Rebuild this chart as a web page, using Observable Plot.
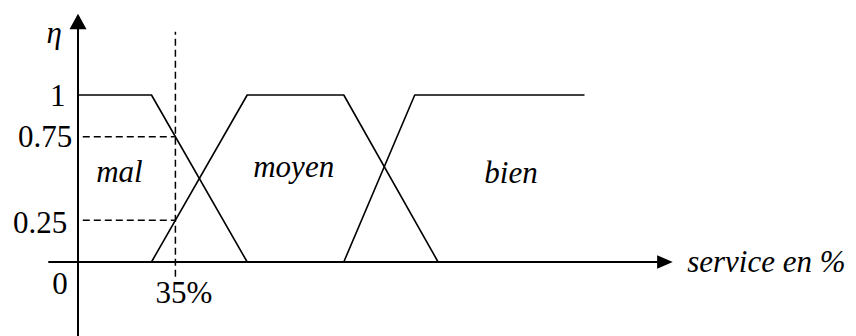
<!DOCTYPE html>
<html>
<head>
<meta charset="utf-8">
<script src="https://cdn.jsdelivr.net/npm/d3@7"></script>
<script src="https://cdn.jsdelivr.net/npm/@observablehq/plot@0.6"></script>
<style>
  html, body { margin: 0; padding: 0; background: #fff; }
  #chart svg { display: block; }
</style>
</head>
<body>
<div id="chart"></div>
<script>
// Membership functions (x in %, y = membership degree eta)
const malX = [0, 26.4, 60.8];
const malY = [1, 1, 0];
const moyenX = [26.4, 60.8, 95.5, 129.4];
const moyenY = [0, 1, 1, 0];
const bienX = [95.5, 121, 181.8];
const bienY = [0, 1, 1];

// Reading at 35% service
const readX = 35;
const readLevels = [0.75, 0.25];

// Tick labels
const yTickValues = [1, 0.75, 0.25, 0];
const yTickLabels = ["1", "0.75", "0.25", "0"];
const xReadLabel = "35%";

// Set names
const setNames = ["mal", "moyen", "bien"];
const axisXLabel = "service en %";
const axisYLabel = "η";

const toPts = (xs, ys) => xs.map((x, i) => ({x, y: ys[i]}));
const mal = toPts(malX, malY);
const moyen = toPts(moyenX, moyenY);
const bien = toPts(bienX, bienY);

// Custom filled arrowheads (anchored at their tip)
const arrowUp = {draw(ctx) { ctx.moveTo(0, 0); ctx.lineTo(-8.5, 15.5); ctx.lineTo(8.5, 15.5); ctx.closePath(); }};
const arrowRight = {draw(ctx) { ctx.moveTo(0, 0); ctx.lineTo(-15.6, -6.7); ctx.lineTo(-15.6, 6.7); ctx.closePath(); }};

const FONT = "'Liberation Serif', 'Times New Roman', serif";
const FS = 31;

const tickOffsets = [[-12.5, 1.5], [-5.8, 0], [-10.8, 2.75], [-10.2, 21.8]];

const marks = [
  // axes
  Plot.ruleY([0], {x1: -10.5, x2: 208.5, stroke: "#000", strokeWidth: 2}),
  Plot.ruleX([0], {y1: -0.5, y2: 1.40, stroke: "#000", strokeWidth: 2}),
  Plot.dot([{x: 0, y: 1.486}], {x: "x", y: "y", symbol: arrowUp, fill: "#000", stroke: null}),
  Plot.dot([{x: 213.7, y: 0}], {x: "x", y: "y", symbol: arrowRight, fill: "#000", stroke: null}),
  // dashed reading lines
  Plot.ruleX([readX], {y1: -0.091, y2: 1.376, stroke: "#000", strokeWidth: 1.5, strokeDasharray: "7,4"}),
  Plot.ruleY(readLevels, {x1: 1.9, x2: readX, stroke: "#000", strokeWidth: 1.5, strokeDasharray: "7,4"}),
  // membership functions
  Plot.line(mal, {x: "x", y: "y", stroke: "#000", strokeWidth: 1.6}),
  Plot.line(moyen, {x: "x", y: "y", stroke: "#000", strokeWidth: 1.6}),
  Plot.line(bien, {x: "x", y: "y", stroke: "#000", strokeWidth: 1.6}),
  // set names
  Plot.text([{x: 14.9, y: 0.478, t: setNames[0]}, {x: 77.5, y: 0.506, t: setNames[1]}, {x: 155.6, y: 0.476, t: setNames[2]}],
    {x: "x", y: "y", text: "t", lineAnchor: "bottom", textAnchor: "middle", fontFamily: FONT, fontSize: FS, fontStyle: "italic", fill: "#000"}),
  // axis labels
  Plot.text([axisXLabel], {x: 218.9, y: -0.06, text: d => d, lineAnchor: "bottom", textAnchor: "start", fontFamily: FONT, fontSize: FS, fontStyle: "italic", fill: "#000"}),
  Plot.text([axisYLabel], {x: -8.6, y: 1.314, text: d => d, lineAnchor: "bottom", textAnchor: "middle", fontFamily: FONT, fontSize: FS, fontStyle: "italic", fill: "#000"}),
  // reading label
  Plot.text([xReadLabel], {x: readX, y: 0, text: d => d, dx: -19.9, dy: 31.5, lineAnchor: "middle", textAnchor: "start", fontFamily: FONT, fontSize: FS, fill: "#000"}),
  // y tick labels
  ...yTickValues.map((v, i) => Plot.text([yTickLabels[i]], {x: 0, y: v, text: d => d, dx: tickOffsets[i][0], dy: tickOffsets[i][1], lineAnchor: "middle", textAnchor: "end", fontFamily: FONT, fontSize: FS, fill: "#000"}))
];

const chart = Plot.plot({
  width: 856,
  height: 336,
  marginTop: 0, marginRight: 0, marginBottom: 0, marginLeft: 0,
  style: {background: "#fff", overflow: "visible"},
  x: {type: "linear", domain: [0, 200], range: [77.5, 77.5 + 200 * 2.783], axis: null},
  y: {type: "linear", domain: [0, 1], range: [261.5, 94.5], axis: null},
  marks
});
document.getElementById("chart").appendChild(chart);
</script>
</body>
</html>
